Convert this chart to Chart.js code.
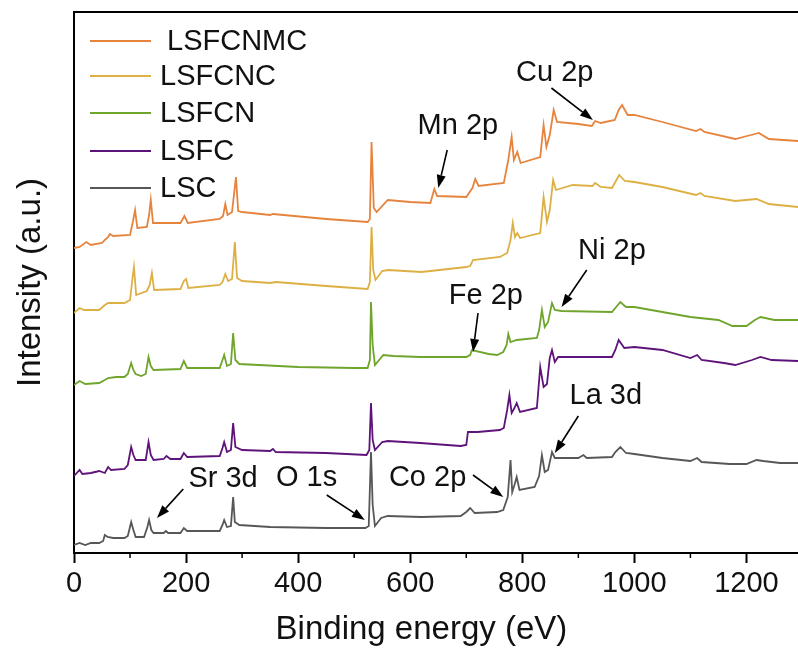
<!DOCTYPE html>
<html>
<head>
<meta charset="utf-8">
<title>XPS survey spectra</title>
<script src="https://cdn.jsdelivr.net/npm/chart.js@4/dist/chart.umd.min.js"></script>
<style>
  html, body { margin: 0; padding: 0; background: #fff; }
  #wrap { width: 798px; height: 651px; }
</style>
</head>
<body>
<div id="wrap"><canvas id="xps" width="798" height="651"></canvas></div>
<script>
// Binding energy (eV) / intensity (a.u., stacked offsets).
const lscEnergy = [0, 10, 20, 30, 45, 52, 55, 60, 70, 90, 96, 102, 106, 110, 125, 131, 134, 138, 142, 160, 164, 168, 190, 196, 202, 260, 265, 268, 273, 280, 284, 287, 295, 350, 450, 520, 526, 530, 533, 537, 548, 560, 620, 690, 700, 707, 715, 755, 766, 774, 779, 782, 786, 790, 795, 822, 830, 835, 840, 846, 853, 858, 900, 909, 915, 960, 966, 975, 985, 1000, 1050, 1100, 1112, 1120, 1170, 1200, 1218, 1230, 1260, 1292];
const lscCounts = [8, 10, 8, 10, 10, 12, 18, 16, 15, 15, 17, 31, 23, 16, 16, 26, 33, 23, 20, 20, 22, 20, 20, 25, 22, 22, 28, 33, 26, 27, 56, 31, 28, 26, 25, 25, 27, 101, 48, 27, 35, 37, 36, 37, 41, 45, 40, 41, 43, 56, 93, 61, 68, 76, 63, 66, 77, 98, 81, 83, 101, 95, 95, 98, 95, 96, 101, 106, 100, 99, 95, 92, 95, 91, 89, 89, 93, 92, 90, 90];

const lsfcEnergy = [0, 10, 15, 30, 45, 55, 61, 66, 90, 96, 102, 106, 110, 128, 133, 137, 142, 160, 165, 172, 190, 196, 202, 260, 265, 268, 273, 280, 284, 288, 300, 350, 355, 360, 450, 522, 527, 530, 533, 537, 550, 560, 618, 690, 700, 703, 720, 760, 767, 773, 777, 781, 786, 790, 796, 826, 832, 838, 844, 849, 853, 858, 864, 900, 960, 966, 972, 982, 1000, 1050, 1100, 1112, 1120, 1160, 1180, 1210, 1225, 1245, 1292];
const lsfcCounts = [77, 83, 79, 80, 82, 80, 86, 83, 84, 88, 106, 98, 93, 93, 111, 98, 93, 94, 97, 94, 94, 100, 96, 97, 105, 111, 101, 103, 130, 106, 103, 102, 104, 101, 100, 98, 103, 150, 113, 103, 111, 112, 110, 107, 108, 121, 121, 123, 125, 143, 158, 140, 145, 150, 141, 145, 186, 166, 169, 195, 203, 191, 196, 196, 196, 203, 213, 205, 206, 203, 195, 198, 193, 190, 188, 193, 196, 193, 192];

const lsfcnEnergy = [0, 10, 20, 45, 55, 61, 75, 90, 96, 102, 106, 110, 120, 128, 133, 137, 142, 190, 196, 202, 260, 265, 268, 273, 280, 284, 288, 295, 400, 500, 524, 528, 530, 533, 537, 552, 570, 618, 700, 707, 710, 740, 755, 766, 772, 775, 779, 790, 826, 830, 835, 840, 846, 853, 858, 870, 960, 966, 975, 985, 1000, 1100, 1150, 1175, 1200, 1215, 1225, 1250, 1292];
const lsfcnCounts = [168, 172, 169, 170, 173, 175, 176, 176, 179, 190, 183, 179, 177, 179, 196, 187, 183, 184, 192, 185, 185, 193, 198, 187, 189, 220, 193, 189, 186, 185, 185, 193, 251, 208, 188, 198, 197, 196, 196, 198, 203, 199, 198, 201, 208, 219, 211, 213, 215, 223, 243, 226, 231, 250, 243, 242, 241, 245, 251, 246, 246, 236, 233, 227, 227, 233, 236, 233, 233];

const lsfcncEnergy = [0, 10, 18, 45, 55, 61, 90, 100, 104, 107, 111, 130, 135, 139, 143, 190, 196, 200, 204, 260, 265, 270, 275, 282, 287, 291, 300, 350, 360, 450, 524, 528, 531, 534, 538, 550, 560, 620, 700, 707, 712, 760, 773, 779, 783, 787, 791, 796, 832, 838, 844, 849, 855, 860, 890, 925, 930, 940, 960, 967, 973, 983, 1000, 1050, 1110, 1118, 1125, 1180, 1218, 1240, 1292];
const lsfcncCounts = [240, 245, 243, 243, 248, 250, 250, 253, 273, 286, 258, 262, 268, 280, 263, 264, 272, 274, 265, 268, 271, 279, 272, 274, 311, 275, 272, 270, 271, 267, 264, 271, 326, 283, 273, 282, 283, 281, 286, 287, 293, 296, 300, 313, 330, 316, 320, 315, 320, 356, 331, 343, 373, 363, 368, 367, 370, 366, 365, 372, 378, 372, 371, 366, 358, 360, 357, 352, 354, 349, 346];

const lsfcnmcEnergy = [0, 10, 22, 30, 50, 55, 61, 64, 70, 100, 105, 109, 113, 130, 134, 137, 141, 190, 197, 203, 260, 266, 270, 274, 282, 289, 293, 300, 350, 355, 450, 524, 528, 531, 535, 540, 560, 600, 636, 643, 648, 700, 711, 716, 722, 767, 775, 781, 785, 791, 797, 832, 838, 843, 849, 856, 862, 900, 924, 930, 940, 965, 972, 978, 988, 1000, 1050, 1110, 1118, 1125, 1180, 1215, 1222, 1240, 1292];
const lsfcnmcCounts = [305, 306, 311, 308, 310, 313, 316, 319, 317, 318, 331, 343, 325, 326, 338, 353, 330, 330, 337, 330, 334, 337, 349, 338, 341, 376, 342, 341, 338, 339, 334, 331, 334, 411, 345, 341, 353, 351, 350, 364, 357, 356, 365, 374, 367, 370, 393, 416, 393, 401, 390, 396, 428, 406, 418, 443, 431, 429, 427, 432, 430, 433, 443, 448, 438, 438, 431, 422, 424, 421, 414, 419, 420, 414, 412];

const seriesNames = ["LSFCNMC", "LSFCNC", "LSFCN", "LSFC", "LSC"];
const seriesColors = ["#e6843e", "#ddb044", "#6fa52c", "#5e137a", "#575757"];
const xTicks = [0, 200, 400, 600, 800, 1000, 1200];

// Peak labels: [text, text x (eV), text y, arrow from x, from y, to x, to y]
const peakLabels = [
  ["Cu 2p", 858, 481, 852, 465, 926, 433],
  ["Mn 2p", 685, 428, 666, 403, 650, 365],
  ["Ni 2p", 960, 303, 915, 283, 870, 246],
  ["Fe 2p", 735, 258, 721, 240, 712, 201],
  ["La 3d", 949, 158, 900, 137, 858, 100],
  ["Co 2p", 631, 76, 712, 78, 766, 56],
  ["O 1s", 415, 76, 451, 58, 519, 33],
  ["Sr 3d", 266, 75, 195, 64, 148, 35],
];

const FONT = "'Liberation Sans', Arial, sans-serif";

function zip(xs, ys) {
  return xs.map((x, i) => ({ x, y: ys[i] }));
}

const spectra = [
  [lsfcnmcEnergy, lsfcnmcCounts],
  [lsfcncEnergy, lsfcncCounts],
  [lsfcnEnergy, lsfcnCounts],
  [lsfcEnergy, lsfcCounts],
  [lscEnergy, lscCounts],
];

const datasets = spectra.map(([e, c], i) => ({
  label: seriesNames[i],
  data: zip(e, c),
  borderColor: seriesColors[i],
  borderWidth: 1.8,
  pointRadius: 0,
  tension: 0,
  fill: false,
}));

function arrow(ctx, x1, y1, x2, y2) {
  const ang = Math.atan2(y2 - y1, x2 - x1);
  const len = 13, half = 4.5;
  const bx = x2 - len * Math.cos(ang), by = y2 - len * Math.sin(ang);
  ctx.beginPath();
  ctx.moveTo(x1, y1);
  ctx.lineTo(bx, by);
  ctx.stroke();
  ctx.beginPath();
  ctx.moveTo(x2, y2);
  ctx.lineTo(bx - half * Math.sin(ang), by + half * Math.cos(ang));
  ctx.lineTo(bx + half * Math.sin(ang), by - half * Math.cos(ang));
  ctx.closePath();
  ctx.fill();
}

const decorations = {
  id: "decorations",
  afterDraw(chart) {
    const { ctx, chartArea, scales } = chart;
    const xs = scales.x, ys = scales.y;
    ctx.save();

    // top frame line
    ctx.strokeStyle = "#000";
    ctx.lineWidth = 2;
    ctx.beginPath();
    ctx.moveTo(chartArea.left - 1, chartArea.top);
    ctx.lineTo(chartArea.right, chartArea.top);
    ctx.stroke();

    // minor ticks
    ctx.lineWidth = 1.5;
    for (let v = 100; v < xs.max; v += 200) {
      const px = xs.getPixelForValue(v);
      ctx.beginPath();
      ctx.moveTo(px, chartArea.bottom);
      ctx.lineTo(px, chartArea.bottom + 5);
      ctx.stroke();
    }

    // x axis title
    ctx.fillStyle = "#111";
    ctx.font = `33px ${FONT}`;
    ctx.textAlign = "center";
    ctx.textBaseline = "middle";
    ctx.fillText("Binding energy (eV)", xs.getPixelForValue(620), 630);

    // legend
    ctx.font = `29px ${FONT}`;
    ctx.textAlign = "left";
    const rows = [41, 76, 113, 151, 188];
    seriesNames.forEach((name, i) => {
      ctx.strokeStyle = seriesColors[i];
      ctx.lineWidth = 2;
      ctx.beginPath();
      ctx.moveTo(90, rows[i]);
      ctx.lineTo(151, rows[i]);
      ctx.stroke();
      ctx.fillText(name, i === 0 ? 167 : 160, rows[i] + 1);
    });

    // peak annotations
    ctx.strokeStyle = "#000";
    ctx.lineWidth = 1.6;
    ctx.textAlign = "center";
    peakLabels.forEach(([text, tx, ty, ax, ay, bx, by]) => {
      ctx.fillStyle = "#111";
      ctx.fillText(text, xs.getPixelForValue(tx), ys.getPixelForValue(ty) + 1);
      ctx.fillStyle = "#000";
      arrow(ctx, xs.getPixelForValue(ax), ys.getPixelForValue(ay),
        xs.getPixelForValue(bx), ys.getPixelForValue(by));
    });

    ctx.restore();
  },
};

new Chart(document.getElementById("xps"), {
  type: "line",
  data: { datasets },
  options: {
    responsive: false,
    animation: false,
    devicePixelRatio: 1,
    layout: { padding: { top: 12, right: 0, left: 0, bottom: 0 } },
    plugins: {
      legend: { display: false },
      tooltip: { enabled: false },
    },
    scales: {
      x: {
        type: "linear",
        min: 0,
        max: 1292,
        afterFit: (scale) => { scale.height = 98; },
        afterBuildTicks: (scale) => { scale.ticks = xTicks.map((v) => ({ value: v })); },
        ticks: {
          color: "#111",
          font: { family: FONT, size: 29 },
          padding: 4,
          maxRotation: 0,
          autoSkip: false,
          callback: (value) => String(value),
        },
        grid: {
          drawOnChartArea: false,
          drawTicks: true,
          tickLength: 10,
          tickColor: "#000",
          tickWidth: 2,
        },
        border: { color: "#000", width: 2 },
      },
      y: {
        min: 0,
        max: 541,
        afterFit: (scale) => { scale.width = 74; },
        ticks: { display: false },
        grid: { display: false, drawTicks: false },
        border: { color: "#000", width: 2 },
        title: {
          display: true,
          text: "Intensity (a.u.)",
          color: "#111",
          font: { family: FONT, size: 33 },
          padding: { top: 11, bottom: 0 },
        },
      },
    },
  },
  plugins: [decorations],
});
</script>
</body>
</html>
